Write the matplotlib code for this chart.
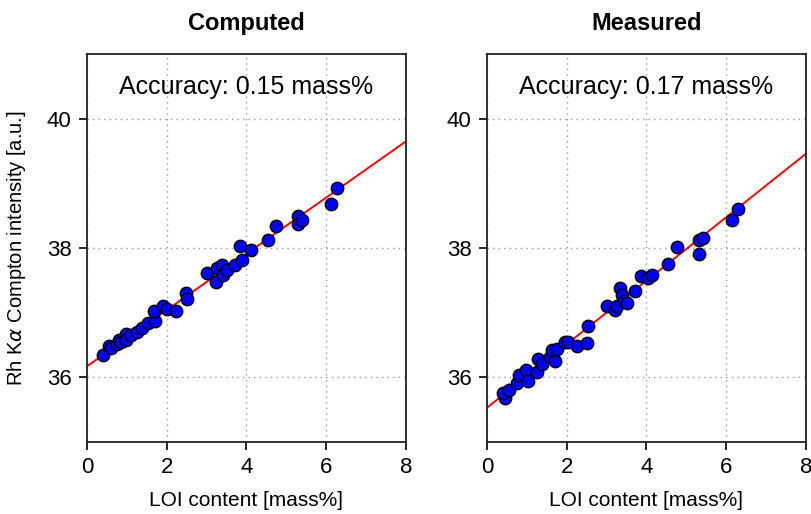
import matplotlib
matplotlib.use('Agg')
import matplotlib.pyplot as plt
import numpy as np

plt.rcParams['font.family'] = ['Liberation Sans', 'DejaVu Sans']

# LOI content [mass%] and Rh K-alpha Compton intensity
loi_comp = [0.41, 0.56, 0.60, 0.74, 0.79, 0.85, 0.99, 0.99, 1.10, 1.25, 1.37, 1.54,
            1.70, 1.68, 1.91, 2.01, 2.23, 2.48, 2.51, 3.02, 3.23, 3.25, 3.38, 3.42,
            3.50, 3.71, 3.88, 3.83, 4.11, 4.54, 4.75, 5.30, 5.30, 5.38, 6.13, 6.27]
int_comp = [36.35, 36.49, 36.45, 36.52, 36.57, 36.55, 36.67, 36.58, 36.65, 36.70,
            36.76, 36.84, 36.87, 37.03, 37.10, 37.05, 37.03, 37.31, 37.21, 37.61,
            37.47, 37.69, 37.74, 37.59, 37.66, 37.74, 37.82, 38.03, 37.97, 38.12,
            38.34, 38.49, 38.37, 38.43, 38.68, 38.93]

loi_meas = [0.45, 0.41, 0.56, 0.74, 0.79, 0.99, 1.04, 1.25, 1.29, 1.37, 1.58, 1.70,
            1.62, 1.75, 1.95, 2.04, 2.25, 2.50, 2.54, 3.02, 3.21, 3.25, 3.33, 3.38,
            3.43, 3.50, 3.71, 3.85, 4.04, 4.13, 4.54, 4.77, 5.32, 5.32, 5.41, 6.15, 6.30]
int_meas = [35.68, 35.76, 35.81, 35.91, 36.04, 36.11, 35.94, 36.09, 36.29, 36.21,
            36.32, 36.26, 36.42, 36.44, 36.54, 36.54, 36.49, 36.53, 36.79, 37.11,
            37.04, 37.10, 37.38, 37.28, 37.18, 37.15, 37.33, 37.57, 37.54, 37.59,
            37.76, 38.01, 37.91, 38.12, 38.16, 38.43, 38.61]

# calibration lines (intercept, slope)
fit_comp = (36.17, 0.435)
fit_meas = (35.53, 0.491)

titles = ['Computed', 'Measured']
accuracy = ['Accuracy: 0.15 mass%', 'Accuracy: 0.17 mass%']

fig = plt.figure(figsize=(8.12, 5.14), dpi=100)
ax1 = fig.add_axes([87/812, 1-442/514, 319/812, 388/514])
ax2 = fig.add_axes([487/812, 1-442/514, 319/812, 388/514])

panels = [(ax1, loi_comp, int_comp, fit_comp), (ax2, loi_meas, int_meas, fit_meas)]
for i, (ax, x, y, fit) in enumerate(panels):
    ax.set_xlim(0, 8)
    ax.set_ylim(35, 41)
    ax.set_xticks([0, 2, 4, 6, 8])
    ax.set_yticks([36, 38, 40])
    ax.grid(True, linestyle=(0, (1, 3)), color='#999999', linewidth=1)
    ax.set_axisbelow(True)

    xx = np.array([0, 8])
    ax.plot(xx, fit[0] + fit[1] * xx, color='red', linewidth=1.4, zorder=2)
    ax.scatter(x, y, s=80, facecolor='#0000ff', edgecolor='black', linewidth=1, zorder=3)

    ax.set_title(titles[i], fontsize=17, fontweight='bold', pad=17)
    ax.text(0.5, 0.915, accuracy[i], transform=ax.transAxes, ha='center', va='center',
            fontsize=18)
    ax.set_xlabel('LOI content [mass%]', fontsize=15, labelpad=9)

    for s in ax.spines.values():
        s.set_linewidth(1.3)
        s.set_color('#222222')
    ax.tick_params(direction='out', length=6, width=1.2, labelsize=16, pad=5)

ax1.set_ylabel(r'Rh K$\alpha$ Compton intensity [a.u.]', fontsize=14.5, labelpad=14)

fig.savefig('out.png', dpi=100)
